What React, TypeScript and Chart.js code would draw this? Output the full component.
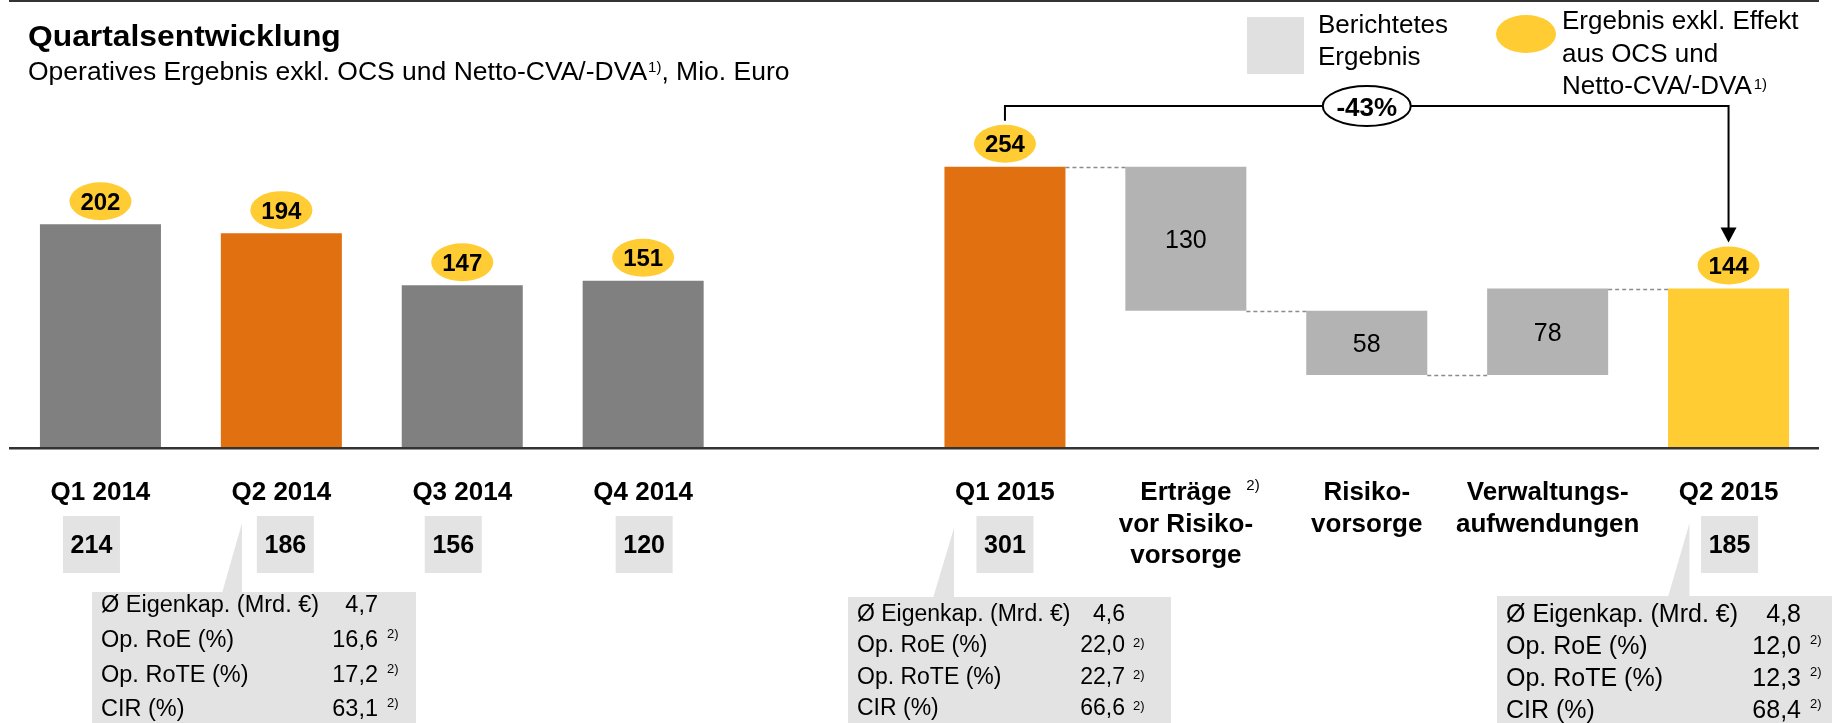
import React, { useEffect, useRef } from "react";
import { Chart, registerables } from "chart.js";

Chart.register(...registerables);

// ---------- DATA ----------
const categories: string[] = [
  "Q1 2014", "Q2 2014", "Q3 2014", "Q4 2014", "",
  "Q1 2015", "Erträge vor Risikovorsorge", "Risikovorsorge", "Verwaltungsaufwendungen", "Q2 2015",
];
const categoryLines: string[][] = [
  ["Q1 2014"], ["Q2 2014"], ["Q3 2014"], ["Q4 2014"], [],
  ["Q1 2015"], ["Erträge", "vor Risiko-", "vorsorge"], ["Risiko-", "vorsorge"],
  ["Verwaltungs-", "aufwendungen"], ["Q2 2015"],
];
const categoryFootnotes: string[] = ["", "", "", "", "", "", "2)", "", "", ""];
// Operatives Ergebnis exkl. OCS und Netto-CVA/-DVA (yellow bubbles / bar heights)
const adjustedResult: (number | null)[] = [202, 194, 147, 151, null, 254, null, null, null, 144];
// waterfall steps from Q1 2015 to Q2 2015
const waterfallSteps: (number | null)[] = [null, null, null, null, null, null, -130, -58, 78, null];
// reported result (grey boxes)
const reportedResult: (number | null)[] = [214, 186, 156, 120, null, 301, null, null, null, 185];

const kpiLabels: string[] = ["Ø Eigenkap. (Mrd. €)", "Op. RoE (%)", "Op. RoTE (%)", "CIR (%)"];
const kpiFootnotes: string[] = ["", "2)", "2)", "2)"];
const kpiQ2_2014: string[] = ["4,7", "16,6", "17,2", "63,1"];
const kpiQ1_2015: string[] = ["4,6", "22,0", "22,7", "66,6"];
const kpiQ2_2015: string[] = ["4,8", "12,0", "12,3", "68,4"];

const titleText = "Quartalsentwicklung";
const subtitleParts = ["Operatives Ergebnis exkl. OCS und Netto-CVA/-DVA", "1)", ", Mio. Euro"];
const legendReported = ["Berichtetes", "Ergebnis"];
const legendAdjusted = ["Ergebnis exkl. Effekt", "aus OCS und", "Netto-CVA/-DVA"];

// ---------- STYLES / LAYOUT ----------
const FONT = '"Liberation Sans", Arial, Helvetica, sans-serif';
const barColors = ["#808080", "#E07010", "#808080", "#808080", "#808080", "#E07010", "#B3B3B3", "#B3B3B3", "#B3B3B3", "#FFCC33"];
const YELLOW = "#FFCC33";
const BOX_GREY = "#E3E3E3";
const boxDx = [-9, 4, -9, 1, 0, 0, 0, 0, 0, 1];

const kpiTables = [
  { cat: 1, values: kpiQ2_2014, box: [92, 592, 324, 131], ptr: [222, 242, 523], labelX: 101, valueR: 378, supX: 387, rows: [612, 647, 682, 716], size: 23.5, supDy: -9 },
  { cat: 5, values: kpiQ1_2015, box: [848, 597, 323, 130], ptr: [933, 954, 528], labelX: 857, valueR: 1125, supX: 1133, rows: [621, 652, 684, 715], size: 23, supDy: -5 },
  { cat: 9, values: kpiQ2_2015, box: [1497, 596, 335, 130], ptr: [1668, 1689.5, 523], labelX: 1506, valueR: 1801, supX: 1810, rows: [622, 654, 686, 718], size: 25, supDy: -10 },
];

// ---------- derived (floating bars) ----------
const levels: (number | null)[] = [];
const barData: ([number, number] | null)[] = (() => {
  let running = 0;
  return categories.map((_, i) => {
    const a = adjustedResult[i];
    const s = waterfallSteps[i];
    if (a != null) {
      running = a;
      levels.push(running);
      return [0, a] as [number, number];
    }
    if (s != null) {
      const start = running;
      running += s;
      levels.push(running);
      return [Math.min(start, running), Math.max(start, running)] as [number, number];
    }
    levels.push(null);
    return null;
  });
})();

function txt(
  ctx: CanvasRenderingContext2D, s: string, x: number, y: number, size: number,
  o: { bold?: boolean; align?: CanvasTextAlign; color?: string; sx?: number } = {}
): number {
  ctx.save();
  ctx.font = `${o.bold ? "bold " : ""}${size}px ${FONT}`;
  ctx.fillStyle = o.color || "#000";
  ctx.textAlign = o.align || "left";
  ctx.textBaseline = "alphabetic";
  const w = ctx.measureText(s).width * (o.sx || 1);
  ctx.translate(x, y);
  ctx.scale(o.sx || 1, 1);
  ctx.fillText(s, 0, 0);
  ctx.restore();
  return w;
}

function ellipse(ctx: CanvasRenderingContext2D, cx: number, cy: number, rx: number, ry: number, fill: string, stroke?: string) {
  ctx.save();
  ctx.beginPath();
  ctx.ellipse(cx, cy, rx, ry, 0, 0, Math.PI * 2);
  ctx.fillStyle = fill;
  ctx.fill();
  if (stroke) {
    ctx.lineWidth = 2;
    ctx.strokeStyle = stroke;
    ctx.stroke();
  }
  ctx.restore();
}

const annotations = {
  id: "annotations",
  afterDraw(chart: any) {
    const ctx: CanvasRenderingContext2D = chart.ctx;
    const xs = chart.scales.x;
    const ys = chart.scales.y;
    const area = chart.chartArea;
    const meta = chart.getDatasetMeta(0);
    const y0 = ys.getPixelForValue(0);

    // rules
    ctx.fillStyle = "#333";
    ctx.fillRect(area.left - 1, 0, area.right - area.left + 1, 2);
    ctx.fillRect(area.left - 1, y0 - 1, area.right - area.left + 1, 2.5);

    // title
    txt(ctx, titleText, 28, 46, 30, { bold: true, sx: 1.06 });
    let sx = 28;
    sx += txt(ctx, subtitleParts[0], sx, 80, 26.5);
    sx += txt(ctx, subtitleParts[1], sx + 1, 72, 15) + 1;
    txt(ctx, subtitleParts[2], sx, 80, 26.5);

    // dashed connectors
    ctx.save();
    ctx.setLineDash([4, 3]);
    ctx.strokeStyle = "#8C8C8C";
    ctx.lineWidth = 1.5;
    for (let i = 0; i < categories.length - 1; i++) {
      const a = meta.data[i];
      const b = meta.data[i + 1];
      if (i < 5 || levels[i] == null || !barData[i + 1]) continue;
      const yy = Math.round(ys.getPixelForValue(levels[i] as number)) + 0.5;
      ctx.beginPath();
      ctx.moveTo(a.x + a.width / 2, yy);
      ctx.lineTo(b.x - b.width / 2, yy);
      ctx.stroke();
    }
    ctx.restore();

    // waterfall values
    waterfallSteps.forEach((s, i) => {
      if (s == null) return;
      const d = barData[i] as [number, number];
      const cy = (ys.getPixelForValue(d[0]) + ys.getPixelForValue(d[1])) / 2;
      txt(ctx, String(Math.abs(s)), xs.getPixelForValue(i), cy + 9, 25, { align: "center" });
    });

    // yellow bubbles
    const bubbleTop: number[] = [];
    adjustedResult.forEach((v, i) => {
      if (v == null) return;
      const cx = xs.getPixelForValue(i);
      const cy = ys.getPixelForValue(v) - 23;
      bubbleTop[i] = cy - 19;
      ellipse(ctx, cx, cy, 31, 19, YELLOW);
      txt(ctx, String(v), cx, cy + 8.5, 24, { bold: true, align: "center" });
    });

    // change arrow Q1 2015 -> Q2 2015
    const iFrom = 5, iTo = 9;
    const xA = xs.getPixelForValue(iFrom);
    const xB = xs.getPixelForValue(iTo);
    const lineY = 106;
    const tipY = bubbleTop[iTo] - 4;
    ctx.save();
    ctx.strokeStyle = "#000";
    ctx.lineWidth = 2;
    ctx.beginPath();
    ctx.moveTo(xA, bubbleTop[iFrom] - 4);
    ctx.lineTo(xA, lineY);
    ctx.lineTo(xB, lineY);
    ctx.lineTo(xB, tipY - 14);
    ctx.stroke();
    ctx.fillStyle = "#000";
    ctx.beginPath();
    ctx.moveTo(xB - 8, tipY - 15);
    ctx.lineTo(xB + 8, tipY - 15);
    ctx.lineTo(xB, tipY);
    ctx.closePath();
    ctx.fill();
    ctx.restore();
    const change = Math.round(((adjustedResult[iTo] as number) - (adjustedResult[iFrom] as number)) / (adjustedResult[iFrom] as number) * 100);
    const midX = xs.getPixelForValue(7);
    ellipse(ctx, midX, lineY, 44, 20, "#FFFFFF", "#000");
    txt(ctx, `${change}%`, midX, lineY + 9.5, 26, { bold: true, align: "center" });

    // category labels
    categoryLines.forEach((lines, i) => {
      const cx = xs.getPixelForValue(i);
      lines.forEach((l, k) => {
        const w = txt(ctx, l, cx, 500 + k * 31.5, 26, { bold: true, align: "center" });
        if (k === 0 && categoryFootnotes[i]) {
          txt(ctx, categoryFootnotes[i], cx + w / 2 + 15, 490, 15);
        }
      });
    });

    // kpi tables (drawn before reported boxes)
    kpiTables.forEach((t) => {
      ctx.fillStyle = BOX_GREY;
      ctx.fillRect(t.box[0], t.box[1], t.box[2], t.box[3]);
      ctx.beginPath();
      ctx.moveTo(t.ptr[0], t.box[1] + 1);
      ctx.lineTo(t.ptr[1], t.ptr[2]);
      ctx.lineTo(t.ptr[1], t.box[1] + 1);
      ctx.closePath();
      ctx.fill();
      kpiLabels.forEach((lab, r) => {
        txt(ctx, lab, t.labelX, t.rows[r], t.size);
        txt(ctx, t.values[r], t.valueR, t.rows[r], t.size, { align: "right" });
        if (kpiFootnotes[r]) txt(ctx, kpiFootnotes[r], t.supX, t.rows[r] + t.supDy, 13);
      });
    });

    // reported result boxes
    reportedResult.forEach((v, i) => {
      if (v == null) return;
      const cx = xs.getPixelForValue(i) + boxDx[i];
      ctx.fillStyle = BOX_GREY;
      ctx.fillRect(cx - 28.5, 516, 57, 57);
      txt(ctx, String(v), cx, 553, 25, { bold: true, align: "center" });
    });

    // legend
    ctx.fillStyle = "#E0E0E0";
    ctx.fillRect(1247, 17, 57, 57);
    legendReported.forEach((l, k) => txt(ctx, l, 1318, 33 + k * 32, 26));
    ellipse(ctx, 1526, 34, 30, 19, YELLOW);
    legendAdjusted.forEach((l, k) => {
      const w = txt(ctx, l, 1562, 29 + k * 32.5, 26);
      if (k === legendAdjusted.length - 1) txt(ctx, "1)", 1562 + w + 2, 29 + k * 32.5 - 5, 15);
    });
  },
};

export default function App() {
  const ref = useRef<HTMLCanvasElement | null>(null);
  useEffect(() => {
    if (!ref.current) return;
    const chart = new Chart(ref.current, {
      type: "bar",
      data: {
        labels: categories,
        datasets: [
          {
            data: barData as any,
            backgroundColor: barColors,
            borderWidth: 0,
            barPercentage: 0.669,
            categoryPercentage: 1,
          },
        ],
      },
      options: {
        animation: false,
        responsive: false,
        devicePixelRatio: 1,
        events: [],
        layout: { padding: { left: 10, right: 22, top: 5, bottom: 275 } },
        plugins: { legend: { display: false }, tooltip: { enabled: false }, title: { display: false } },
        scales: {
          x: { display: false, offset: true },
          y: { display: false, min: 0, max: 400 },
        },
      },
      plugins: [annotations],
    });
    return () => chart.destroy();
  }, []);
  return (
    <div style={{ position: "absolute", left: 0, top: 0, width: 1841, height: 723, background: "#fff" }}>
      <canvas ref={ref} width={1841} height={723} style={{ width: 1841, height: 723, display: "block" }} />
    </div>
  );
}
